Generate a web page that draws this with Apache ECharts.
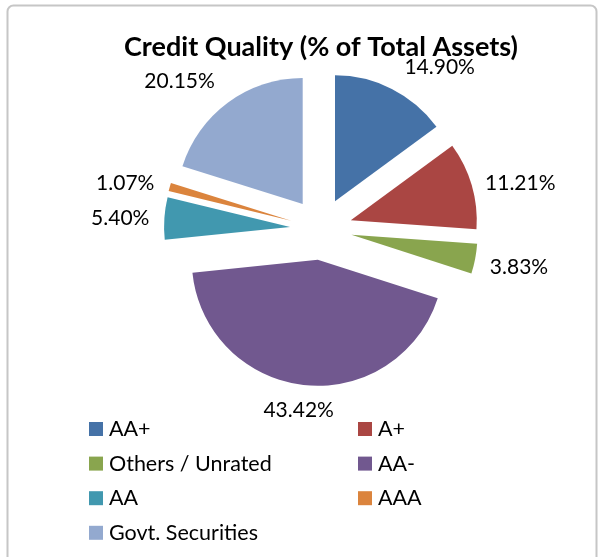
<!DOCTYPE html>
<html>
<head>
<meta charset="utf-8">
<script src="https://cdn.jsdelivr.net/npm/echarts@6/dist/echarts.min.js"></script>
<style>
  html, body { margin: 0; padding: 0; background: #fff; }
  #main { width: 601px; height: 557px; }
</style>
</head>
<body>
<div id="main"></div>
<script>
// slice order clockwise from 12 o'clock
const names = ['AA+', 'A+', 'Others / Unrated', 'AA-', 'AA', 'AAA', 'Govt. Securities'];
const values = [14.90, 11.21, 3.83, 43.42, 5.40, 1.07, 20.15];
const colors = ['#4572A7', '#AA4643', '#89A54E', '#71588F', '#4198AF', '#DB843D', '#93A9CF'];
const legendLeft = ['AA+', 'Others / Unrated', 'AA', 'Govt. Securities'];
const legendRight = ['A+', 'AA-', 'AAA'];
// small nudges so the outside labels sit where Excel's "best fit" put them
const labelNudge = [[-1, -5], [-10, 3], [-9, 5], [1, 6], [9, 1], [8, 1], [3, -6]];

const font = 'Lato, "Open Sans", sans-serif';

let chart = echarts.init(document.getElementById('main'));

let pieData = names.map(function (n, i) {
  return { name: n, value: values[i], selected: true, itemStyle: { color: colors[i] } };
});

let legendCommon = {
  orient: 'vertical',
  top: 418,
  padding: 0,
  icon: 'rect',
  itemWidth: 14,
  itemHeight: 14,
  itemGap: 12.6,
  selectedMode: false,
  textStyle: { fontFamily: font, fontSize: 21.5, color: '#000', lineHeight: 20, padding: [0, 0, 0, 1] }
};

let option = {
  animation: false,
  color: colors,
  title: {
    text: 'Credit Quality (% of Total Assets)',
    left: 316,
    textAlign: 'center',
    top: 29,
    textStyle: { fontFamily: font, fontSize: 27, fontWeight: 'bold', color: '#000' }
  },
  graphic: [{
    type: 'rect',
    shape: { x: 7.5, y: 5.5, width: 589, height: 600, r: 6 },
    style: { fill: 'none', stroke: '#c6c6c6', lineWidth: 2 },
    silent: true
  }],
  legend: [
    Object.assign({ left: 89, data: legendLeft }, legendCommon),
    Object.assign({ left: 358, data: legendRight }, legendCommon)
  ],
  series: [{
    type: 'pie',
    center: [321, 229],
    radius: 126,
    startAngle: 90,
    clockwise: true,
    selectedMode: 'multiple',
    selectedOffset: 31,
    avoidLabelOverlap: false,
    label: {
      show: true,
      position: 'outside',
      formatter: function (p) { return p.value.toFixed(2) + '%'; },
      fontFamily: font,
      fontSize: 21,
      color: '#000'
    },
    labelLine: { show: false, length: 19, length2: 0 },
    labelLayout: function (p) {
      let n = labelNudge[p.dataIndex];
      let o = { dx: n[0], dy: n[1] };
      if (p.dataIndex === 3) o.align = 'center';
      return o;
    },
    emphasis: { disabled: true },
    data: pieData
  }]
};
chart.setOption(option);
</script>
</body>
</html>
